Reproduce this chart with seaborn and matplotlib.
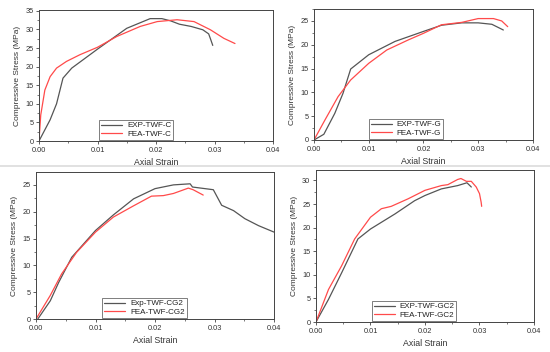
import matplotlib
matplotlib.use("Agg")
import matplotlib.pyplot as plt
import seaborn as sns
import pandas as pd
from matplotlib.lines import Line2D
from matplotlib.ticker import MultipleLocator, AutoMinorLocator

# ---------------- data ----------------
# Panel 1: TWF-C
exp_c_x = [0.0, 0.0019, 0.003, 0.0041, 0.0056, 0.0100, 0.0150, 0.0190, 0.0210, 0.0225, 0.0240, 0.0260, 0.0280, 0.0290, 0.0293, 0.0297]
exp_c_y = [0.0, 5.7, 10.0, 16.9, 19.6, 24.7, 30.3, 32.9, 32.9, 32.3, 31.4, 30.8, 29.9, 28.8, 27.5, 25.7]
fea_c_x = [0.0, 0.0003, 0.0010, 0.0019, 0.0030, 0.0047, 0.0070, 0.0100, 0.0133, 0.0173, 0.0202, 0.0236, 0.0265, 0.0293, 0.0316, 0.0335]
fea_c_y = [0.0, 7.0, 13.7, 17.3, 19.6, 21.4, 23.2, 25.2, 28.1, 30.8, 32.1, 32.6, 32.1, 29.9, 27.6, 26.2]

# Panel 2: TWF-G
exp_g_x = [0.0, 0.0018, 0.0038, 0.0053, 0.0067, 0.0100, 0.0148, 0.0200, 0.0233, 0.0270, 0.0300, 0.0325, 0.0346]
exp_g_y = [0.0, 1.2, 5.6, 9.8, 14.9, 17.9, 20.7, 22.8, 24.1, 24.6, 24.6, 24.3, 23.1]
fea_g_x = [0.0, 0.0020, 0.0044, 0.0067, 0.0100, 0.0133, 0.0172, 0.0200, 0.0233, 0.0270, 0.0300, 0.0328, 0.0343, 0.0354]
fea_g_y = [0.0, 4.2, 9.1, 12.6, 16.1, 18.9, 21.0, 22.4, 24.2, 24.7, 25.5, 25.5, 25.0, 23.8]

# Panel 3: TWF-CG2
exp_cg2_x = [0.0003, 0.0024, 0.0038, 0.0060, 0.0100, 0.0130, 0.0164, 0.0200, 0.0231, 0.0259, 0.0263, 0.0298, 0.0312, 0.0332, 0.0351, 0.0374, 0.0400]
exp_cg2_y = [0.0, 3.4, 6.8, 11.5, 16.5, 19.4, 22.4, 24.3, 25.0, 25.2, 24.6, 24.1, 21.2, 20.2, 18.7, 17.4, 16.2]
fea_cg2_x = [0.0, 0.0024, 0.0043, 0.0068, 0.0100, 0.0130, 0.0164, 0.0194, 0.0214, 0.0231, 0.0256, 0.0264, 0.0281]
fea_cg2_y = [0.0, 4.4, 8.4, 12.4, 16.2, 19.0, 21.1, 22.9, 23.0, 23.4, 24.4, 24.1, 23.1]

# Panel 4: TWF-GC2
exp_gc2_x = [0.0, 0.0023, 0.0047, 0.0077, 0.0100, 0.0145, 0.0181, 0.0200, 0.0230, 0.0260, 0.0277, 0.0285]
exp_gc2_y = [0.0, 4.8, 10.4, 17.6, 19.7, 22.9, 25.7, 26.8, 28.2, 28.9, 29.5, 28.6]
fea_gc2_x = [0.0, 0.0023, 0.0047, 0.0071, 0.0100, 0.0120, 0.0138, 0.0169, 0.0200, 0.0230, 0.0242, 0.0260, 0.0266, 0.0276, 0.0285, 0.0294, 0.0300, 0.0303, 0.0304]
fea_gc2_y = [0.0, 6.9, 11.9, 17.6, 22.2, 24.0, 24.5, 26.1, 27.9, 28.9, 29.1, 30.2, 30.4, 29.8, 29.8, 28.6, 27.2, 25.4, 24.5]

x_ticks = [0.00, 0.01, 0.02, 0.03, 0.04]

panels = [
    dict(exp=(exp_c_x, exp_c_y), fea=(fea_c_x, fea_c_y), labels=["EXP-TWF-C", "FEA-TWF-C"],
         ylim=35.2, ystep=5, rect=[0.0709, 0.5994, 0.4255, 0.372], leg=(0.415, 0.0)),
    dict(exp=(exp_g_x, exp_g_y), fea=(fea_g_x, fea_g_y), labels=["EXP-TWF-G", "FEA-TWF-G"],
         ylim=27.5, ystep=5, rect=[0.5709, 0.6023, 0.398, 0.372], leg=(0.42, 0.0)),
    dict(exp=(exp_cg2_x, exp_cg2_y), fea=(fea_cg2_x, fea_cg2_y), labels=["Exp-TWF-CG2", "FEA-TWF-CG2"],
         ylim=27.4, ystep=5, rect=[0.0655, 0.09375, 0.4327, 0.4176], leg=(0.455, 0.0)),
    dict(exp=(exp_gc2_x, exp_gc2_y), fea=(fea_gc2_x, fea_gc2_y), labels=["EXP-TWF-GC2", "FEA-TWF-GC2"],
         ylim=32.2, ystep=5, rect=[0.5745, 0.0852, 0.3964, 0.4318], leg=(0.45, 0.0)),
]

sns.set_theme(style="white")
plt.rcParams["font.family"] = ["Liberation Sans", "DejaVu Sans"]

GRAY = "#555555"
RED = "#ff4a4a"
SPINE = "#444444"

fig = plt.figure(figsize=(5.5, 3.52), dpi=100)
fig.patch.set_facecolor("white")

# separator between rows
fig.add_artist(Line2D([0.0, 1.0], [0.527, 0.527], transform=fig.transFigure,
                      color="#dcdcdc", lw=1.2))

for p in panels:
    ax = fig.add_axes(p["rect"])
    df_e = pd.DataFrame({"x": p["exp"][0], "y": p["exp"][1]})
    df_f = pd.DataFrame({"x": p["fea"][0], "y": p["fea"][1]})
    sns.lineplot(data=df_e, x="x", y="y", ax=ax, color=GRAY, lw=0.9, sort=False,
                 estimator=None, label=p["labels"][0])
    sns.lineplot(data=df_f, x="x", y="y", ax=ax, color=RED, lw=0.9, sort=False,
                 estimator=None, label=p["labels"][1])
    ax.set_xlim(0, 0.04)
    ax.set_ylim(0, p["ylim"])
    ax.set_xticks(x_ticks)
    ax.set_xticklabels([f"{t:.2f}" for t in x_ticks])
    ax.yaxis.set_major_locator(MultipleLocator(p["ystep"]))
    ax.xaxis.set_minor_locator(AutoMinorLocator(2))
    ax.yaxis.set_minor_locator(AutoMinorLocator(2))
    ax.tick_params(which="major", direction="out", length=2.5, width=0.6, colors=SPINE,
                   labelsize=5.3, labelcolor="#333333", pad=1.5, bottom=True, left=True)
    ax.tick_params(which="minor", direction="out", length=1.5, width=0.5, colors=SPINE,
                   bottom=True, left=True)
    for s in ax.spines.values():
        s.set_color(SPINE)
        s.set_linewidth(0.7)
    ax.set_xlabel("Axial Strain", fontsize=6.3, color="#333333", labelpad=3)
    ax.set_ylabel("Compressive Stress (MPa)", fontsize=6.0, color="#333333", labelpad=3)
    leg = ax.legend(loc="lower center", bbox_to_anchor=p["leg"], fontsize=5.8,
                    frameon=True, fancybox=False, handlelength=2.6, handletextpad=0.6,
                    borderpad=0.25, labelspacing=0.1, borderaxespad=0.15)
    leg.get_frame().set_edgecolor(SPINE)
    leg.get_frame().set_linewidth(0.6)
    for t in leg.get_texts():
        t.set_color("#222222")

fig.savefig("out.png", dpi=100, facecolor="white")
